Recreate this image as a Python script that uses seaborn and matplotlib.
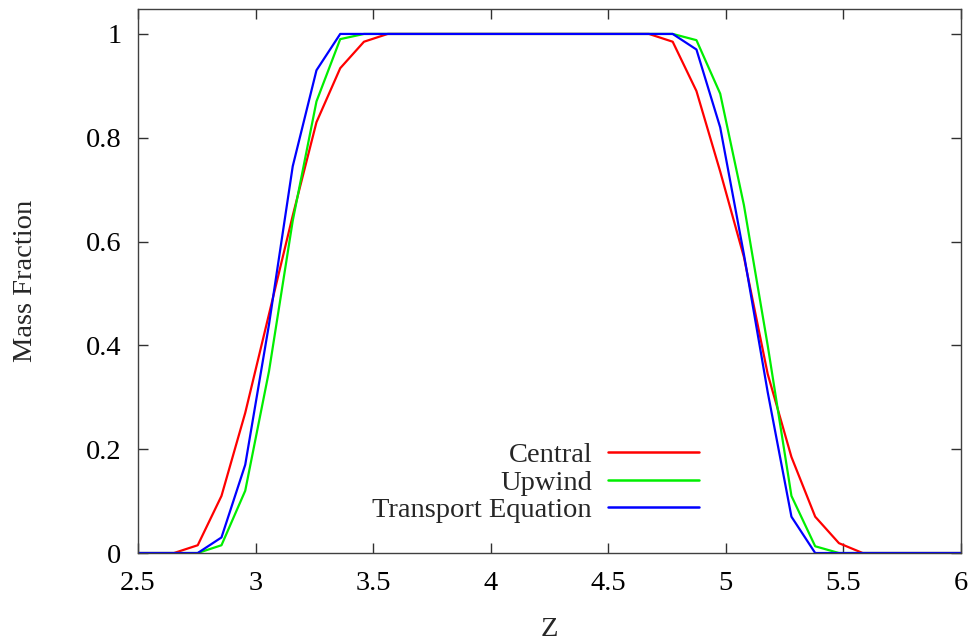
import numpy as np
import pandas as pd
import matplotlib
matplotlib.use("Agg")
import matplotlib.pyplot as plt
import seaborn as sns

# ---- data ----
z = [2.451, 2.552, 2.653, 2.754, 2.855, 2.956, 3.057, 3.158, 3.259, 3.360,
     3.461, 3.562, 3.663, 3.764, 3.865, 3.966, 4.067, 4.168, 4.269, 4.370,
     4.471, 4.572, 4.673, 4.774, 4.875, 4.976, 5.077, 5.178, 5.279, 5.380,
     5.481, 5.582, 5.683, 5.784, 5.885, 5.986, 6.087]

central = [0.0, 0.0, 0.0, 0.015, 0.11, 0.27, 0.46, 0.65, 0.83, 0.934,
           0.985, 1.0, 1.0, 1.0, 1.0, 1.0, 1.0, 1.0, 1.0, 1.0,
           1.0, 1.0, 1.0, 0.985, 0.89, 0.735, 0.57, 0.345, 0.185, 0.07,
           0.019, 0.0, 0.0, 0.0, 0.0, 0.0, 0.0]

upwind = [0.0, 0.0, 0.0, 0.0, 0.015, 0.12, 0.35, 0.64, 0.87, 0.99,
          1.0, 1.0, 1.0, 1.0, 1.0, 1.0, 1.0, 1.0, 1.0, 1.0,
          1.0, 1.0, 1.0, 1.0, 0.988, 0.885, 0.67, 0.40, 0.11, 0.013,
          0.0, 0.0, 0.0, 0.0, 0.0, 0.0, 0.0]

transport = [0.0, 0.0, 0.0, 0.0, 0.03, 0.17, 0.44, 0.745, 0.93, 1.0,
             1.0, 1.0, 1.0, 1.0, 1.0, 1.0, 1.0, 1.0, 1.0, 1.0,
             1.0, 1.0, 1.0, 1.0, 0.97, 0.82, 0.575, 0.31, 0.07, 0.0,
             0.0, 0.0, 0.0, 0.0, 0.0, 0.0, 0.0]

series_names = ["Central", "Upwind", "Transport Equation"]
series_colors = ["#ff0000", "#00ee00", "#0000ff"]

xticks = [2.5, 3, 3.5, 4, 4.5, 5, 5.5, 6]
xtick_labels = ["2.5", "3", "3.5", "4", "4.5", "5", "5.5", "6"]
yticks = [0, 0.2, 0.4, 0.6, 0.8, 1]
ytick_labels = ["0", "0.2", "0.4", "0.6", "0.8", "1"]

df = pd.DataFrame({
    "Z": z * 3,
    "Mass Fraction": central + upwind + transport,
    "Scheme": [series_names[0]] * len(z) + [series_names[1]] * len(z) + [series_names[2]] * len(z),
})

# ---- style ----
FS = 20.5
sns.set_theme(style="ticks")
plt.rcParams["font.family"] = ["Liberation Serif", "DejaVu Serif"]
plt.rcParams["font.size"] = FS

fig = plt.figure(figsize=(9.76, 6.4), dpi=100)
ax = fig.add_axes([0.1414, 0.1359, 0.8432, 0.850])

sns.lineplot(data=df, x="Z", y="Mass Fraction", hue="Scheme",
             hue_order=series_names, palette=series_colors,
             linewidth=1.6, ax=ax, legend=True, sort=False)

ax.set_xlim(2.5, 6)
ax.set_ylim(0, 1.048)
ax.set_xticks(xticks)
ax.set_xticklabels(xtick_labels)
ax.set_yticks(yticks)
ax.set_yticklabels(ytick_labels)

for s in ax.spines.values():
    s.set_visible(True)
    s.set_color("#404040")
    s.set_linewidth(1.0)

ax.tick_params(axis="both", which="major", direction="in", length=7, width=1.0,
               color="#303030", top=True, right=True, labelsize=FS, labelcolor="black")
ax.tick_params(axis="x", pad=13)
ax.tick_params(axis="y", pad=12)

ax.set_xlabel("Z", fontsize=FS, labelpad=15)
ax.set_ylabel("Mass Fraction", fontsize=FS, labelpad=34)

handles, labels = ax.get_legend_handles_labels()
leg = ax.legend(handles, labels, loc="lower right", markerfirst=False, frameon=False,
                bbox_to_anchor=(0.716, 0.183), bbox_transform=fig.transFigure,
                borderpad=0, borderaxespad=0, handlelength=3.2, handletextpad=0.55,
                labelspacing=0.05, fontsize=FS)
for line in leg.get_lines():
    line.set_linewidth(1.8)

fig.savefig("out.png", dpi=100)
